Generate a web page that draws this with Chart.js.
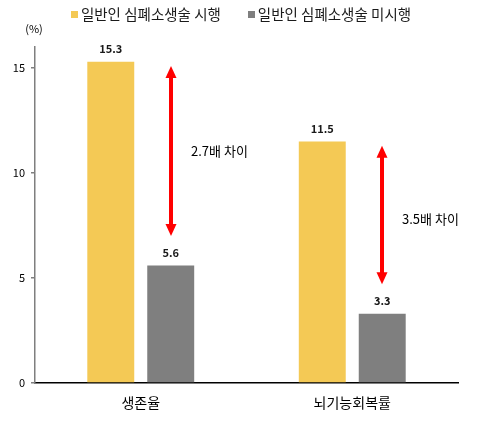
<!DOCTYPE html>
<html><head><meta charset="utf-8">
<script src="https://cdn.jsdelivr.net/npm/chart.js@4"></script>
<style>html,body{margin:0;padding:0;background:#fff}#wrap{width:484px;height:424px}</style>
</head><body><div id="wrap"><canvas id="c" width="484" height="424"></canvas></div>
<script>
const categories = ['생존율', '뇌기능회복률'];
const seriesNames = ['일반인 심폐소생술 시행', '일반인 심폐소생술 미시행'];
const cprDone = [15.3, 11.5];
const cprNotDone = [5.6, 3.3];
const yTicks = [0, 5, 10, 15];
const gapLabels = ['2.7배 차이', '3.5배 차이'];
const arrowTop = [15.1, 11.3];
const arrowBottom = [7.0, 4.7];
const yUnit = '(%)';

const KR = '"Noto Sans CJK KR", "Noto Sans", sans-serif';
const COLORS = ['#F4C955', '#7F7F7F'];

const overlay = {
  id: 'overlay',
  afterDatasetsDraw(chart) {
    const ctx = chart.ctx;
    const y = chart.scales.y;
    ctx.save();
    // value labels
    ctx.font = 'bold 11px ' + KR;
    ctx.fillStyle = '#1a1a1a';
    ctx.textAlign = 'center';
    ctx.textBaseline = 'middle';
    chart.data.datasets.forEach((ds, di) => {
      chart.getDatasetMeta(di).data.forEach((bar, i) => {
        ctx.fillText(ds.data[i].toFixed(1), bar.x, bar.y - 13);
      });
    });
    // arrows + gap labels
    const gm = chart.getDatasetMeta(1);
    gm.data.forEach((bar, i) => {
      const x = Math.round(bar.x);
      const yt = y.getPixelForValue(arrowTop[i]);
      const yb = y.getPixelForValue(arrowBottom[i]);
      const hh = 12, hw = 5.5;
      ctx.strokeStyle = '#FF0000';
      ctx.fillStyle = '#FF0000';
      ctx.lineWidth = 4;
      ctx.beginPath();
      ctx.moveTo(x, yt + hh - 1);
      ctx.lineTo(x, yb - hh + 1);
      ctx.stroke();
      ctx.beginPath();
      ctx.moveTo(x, yt); ctx.lineTo(x - hw, yt + hh); ctx.lineTo(x + hw, yt + hh); ctx.closePath(); ctx.fill();
      ctx.beginPath();
      ctx.moveTo(x, yb); ctx.lineTo(x - hw, yb - hh); ctx.lineTo(x + hw, yb - hh); ctx.closePath(); ctx.fill();
      ctx.fillStyle = '#000';
      ctx.font = '13px ' + KR;
      ctx.textAlign = 'left';
      ctx.fillText(gapLabels[i], x + 20, (yt + yb) / 2 + (i === 1 ? 4 : 0));
    });
    // unit label
    ctx.font = '11px ' + KR;
    ctx.fillStyle = '#000';
    ctx.textAlign = 'center';
    ctx.fillText(yUnit, 34, 29);
    // legend
    ctx.font = '14.5px ' + KR;
    const box = 7, gapIn = 3, gapOut = 27;
    const widths = chart.data.datasets.map(ds => box + gapIn + ctx.measureText(ds.label).width);
    const total = widths.reduce((a, b) => a + b, 0) + gapOut * (widths.length - 1);
    let lx = 241 - total / 2;
    const ly = 14;
    chart.data.datasets.forEach((ds, di) => {
      ctx.fillStyle = ds.backgroundColor;
      ctx.fillRect(Math.round(lx), ly - 3, box, box);
      ctx.fillStyle = '#1a1a1a';
      ctx.textAlign = 'left';
      ctx.fillText(ds.label, lx + box + gapIn, ly);
      lx += widths[di] + gapOut;
    });
    ctx.restore();
  }
};

new Chart(document.getElementById('c'), {
  type: 'bar',
  data: {
    labels: categories,
    datasets: [
      { label: seriesNames[0], data: cprDone, backgroundColor: COLORS[0] },
      { label: seriesNames[1], data: cprNotDone, backgroundColor: COLORS[1] }
    ]
  },
  options: {
    responsive: false,
    devicePixelRatio: 1,
    animation: false,
    datasets: { bar: { barPercentage: 0.783, categoryPercentage: 0.567 } },
    layout: { padding: { top: 47, right: 26, left: 0, bottom: 0 } },
    plugins: { legend: { display: false }, tooltip: { enabled: false } },
    scales: {
      x: {
        grid: { display: false, drawTicks: false },
        border: { display: true, color: '#000', width: 1.5 },
        ticks: { font: { size: 14, family: KR }, color: '#000', padding: 11 },
        afterFit(s) { s.height = 41; }
      },
      y: {
        min: 0, max: 16,
        grid: { drawOnChartArea: false, drawTicks: true, tickLength: 4, color: '#7F7F7F', lineWidth: 1.5 },
        border: { display: true, color: '#7F7F7F', width: 1.5 },
        ticks: { font: { size: 11, family: KR }, color: '#000', padding: 6 },
        afterBuildTicks(s) { s.ticks = yTicks.map(v => ({ value: v })); },
        afterFit(s) { s.width = 35; }
      }
    }
  },
  plugins: [overlay]
});
</script></body></html>
